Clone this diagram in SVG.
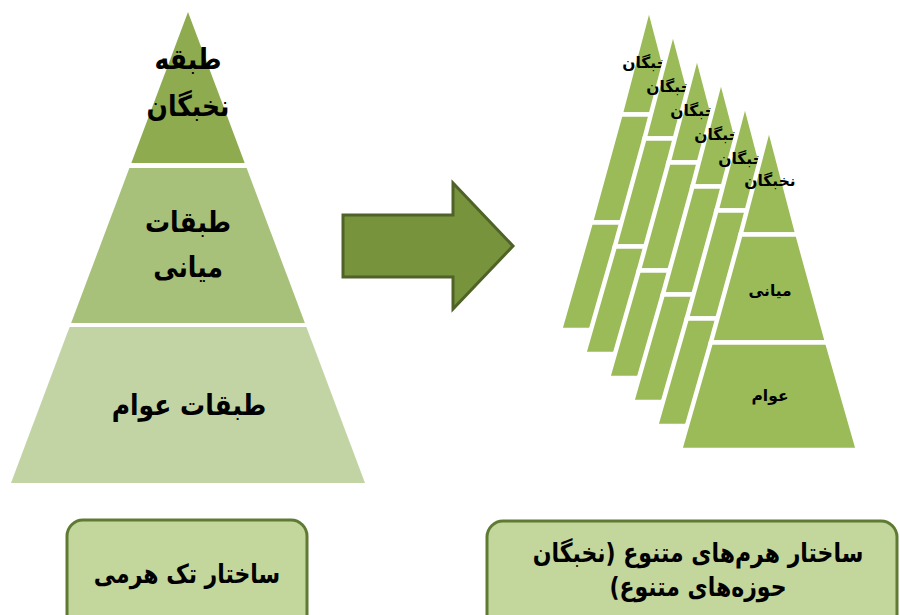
<svg xmlns="http://www.w3.org/2000/svg" xmlns:xlink="http://www.w3.org/1999/xlink" width="900" height="615" viewBox="0 0 900 615">
  <style>
    .fa { font-family: "DejaVu Sans", "Noto Sans", sans-serif; font-weight: bold; fill: #000; text-anchor: middle; direction: rtl; }
    .big { font-size: 25px; }
    .cap { font-size: 22px; }
    .small { font-size: 15.5px; }
    .box { fill: #c3d69b; stroke: #5e7a33; stroke-width: 3; }
    .sec { fill: #9bbb59; stroke: #ffffff; stroke-width: 4.5; stroke-linejoin: miter; }
  </style>
  <defs>
    <!-- one small pyramid, apex at origin, split in three bands -->
    <g id="pyr">
      <polygon class="sec" points="0,-7 28.5,101.5 -28.5,101.5"/>
      <polygon class="sec" points="-28.5,101.5 28.5,101.5 58.2,209.5 -58.2,209.5"/>
      <polygon class="sec" points="-58.2,209.5 58.2,209.5 89,317 -89,317"/>
    </g>
  </defs>

  <!-- single pyramid -->
  <g id="single-pyramid">
    <g id="elite">
      <polygon points="188,12 244.7,163 131.3,163" fill="#8eab50"/>
      <text class="fa big" transform="translate(188,69) scale(1,1.15)">طبقه</text>
      <text class="fa big" font-size="26" transform="translate(188,116) scale(1,1.15)">نخبگان</text>
    </g>
    <g id="middle">
      <polygon points="129.4,168 246.6,168 304.9,323 71.1,323" fill="#a8c17a"/>
      <text class="fa big" transform="translate(188,232) scale(1,1.15)">طبقات</text>
      <text class="fa big" transform="translate(188,277) scale(1,1.15)">میانی</text>
    </g>
    <g id="mass">
      <polygon points="69.6,327 306.4,327 365,483 11,483" fill="#c2d4a4"/>
      <text class="fa big" transform="translate(189,415) scale(1,1.15)">طبقات عوام</text>
    </g>
  </g>

  <!-- connector -->
  <g id="connectors">
    <polygon points="343,215 453,215 453,183 513,246 453,309 453,277 343,277" fill="#77933c" stroke="#4f6228" stroke-width="3" stroke-linejoin="miter"/>
  </g>

  <!-- stacked pyramids, back to front -->
  <g id="multi-pyramid">
    <g id="pyramid-1">
      <use xlink:href="#pyr" transform="translate(649,13)"/>
      <text class="fa small" x="648" y="68">نخبگان</text>
    </g>
    <g id="pyramid-2">
      <use xlink:href="#pyr" transform="translate(673,37)"/>
      <text class="fa small" x="672" y="92">نخبگان</text>
    </g>
    <g id="pyramid-3">
      <use xlink:href="#pyr" transform="translate(697,61)"/>
      <text class="fa small" x="696" y="116">نخبگان</text>
    </g>
    <g id="pyramid-4">
      <use xlink:href="#pyr" transform="translate(721,85)"/>
      <text class="fa small" x="720" y="140">نخبگان</text>
    </g>
    <g id="pyramid-5">
      <use xlink:href="#pyr" transform="translate(745,109)"/>
      <text class="fa small" x="744" y="164">نخبگان</text>
    </g>
    <g id="pyramid-6">
      <use xlink:href="#pyr" transform="translate(769,133)"/>
      <text class="fa small" x="770" y="186">نخبگان</text>
      <text class="fa small" x="770" y="296">میانی</text>
      <text class="fa small" x="770" y="401">عوام</text>
    </g>
  </g>

  <!-- captions -->
  <g id="caption-single">
    <rect class="box" x="67" y="520" width="240" height="110" rx="16" ry="16"/>
    <text class="fa cap" transform="translate(187,583) scale(1,1.2)">ساختار تک هرمی</text>
  </g>
  <g id="caption-multi">
    <rect class="box" x="487" y="521" width="410" height="110" rx="16" ry="16"/>
    <text class="fa cap" transform="translate(698,562) scale(1,1.2)">ساختار هرم‌های متنوع (نخبگان</text>
    <text class="fa cap" transform="translate(698,596) scale(1,1.2)">حوزه‌های متنوع)</text>
  </g>
</svg>
